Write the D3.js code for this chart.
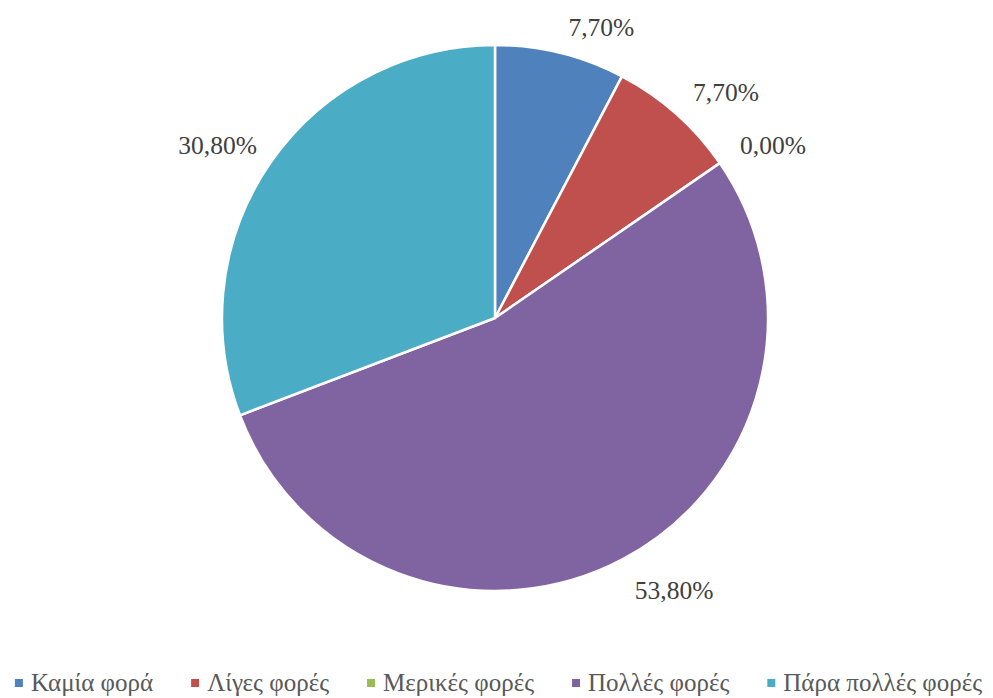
<!DOCTYPE html>
<html><head><meta charset="utf-8">
<script src="https://cdn.jsdelivr.net/npm/d3@7"></script>
<style>
html,body{margin:0;padding:0;background:#fff;overflow:hidden;}
svg{display:block;}
</style></head>
<body>
<svg id="chart" width="993" height="698"></svg>
<script>
const categories = ["Καμία φορά", "Λίγες φορές", "Μερικές φορές", "Πολλές φορές", "Πάρα πολλές φορές"];
const values = [7.7, 7.7, 0.0, 53.8, 30.8];
const labels = ["7,70%", "7,70%", "0,00%", "53,80%", "30,80%"];
const colors = ["#4F81BD", "#C0504D", "#9BBB59", "#8064A2", "#4BACC6"];

const W = 993, H = 698;
const cx = 495, cy = 318, R = 273;
const FONT = "'Liberation Serif', 'Times New Roman', serif";

const svg = d3.select("#chart");
const data = categories.map((c, i) => ({cat: c, value: values[i], label: labels[i], color: colors[i]}));

const pie = d3.pie().sort(null).value(d => d.value).startAngle(0).endAngle(2 * Math.PI);
const arcs = pie(data);
const arc = d3.arc().innerRadius(0).outerRadius(R);

const g = svg.append("g").attr("transform", `translate(${cx},${cy})`);
g.selectAll("path.slice").data(arcs.filter(a => a.endAngle > a.startAngle)).enter().append("path")
  .attr("class", "slice")
  .attr("d", arc)
  .attr("fill", d => d.data.color)
  .attr("stroke", "#fff")
  .attr("stroke-width", 2.5)
  .attr("stroke-linejoin", "round");

// labels: nearest corner of label box placed on mid-angle ray
const LR = R + 21;
g.selectAll("text.lbl").data(arcs).enter().append("text")
  .attr("class", "lbl")
  .each(function(d) {
    const a = (d.startAngle + d.endAngle) / 2;
    const s = Math.sin(a), c = Math.cos(a);
    const px = LR * s, py = -LR * c;
    const t = d3.select(this);
    t.attr("x", s >= 0 ? px + 3 : px + 4)
     .attr("y", c >= 0 ? py + 3 : py + 21)
     .attr("text-anchor", s >= 0 ? "start" : "end");
  })
  .attr("font-family", FONT)
  .attr("font-size", 25.5)
  .attr("fill", "#404040")
  .text(d => d.data.label);

// legend
const lg = svg.append("g");
const items = lg.selectAll("g.item").data(data).enter().append("g").attr("class", "item");
items.append("rect").attr("width", 8).attr("height", 8).attr("y", -12).attr("fill", d => d.color);
items.append("text").attr("x", 16).attr("y", 0)
  .attr("font-family", FONT).attr("font-size", 25).attr("fill", "#595959")
  .text(d => d.cat);
const widths = [];
items.each(function() { widths.push(16 + this.querySelector("text").getComputedTextLength()); });
const gap = 38;
const total = d3.sum(widths) + gap * (widths.length - 1);
let x0 = (W - total) / 2 + 2;
items.attr("transform", (d, i) => {
  const x = x0; x0 += widths[i] + gap;
  return `translate(${x},691)`;
});
</script>
</body></html>
